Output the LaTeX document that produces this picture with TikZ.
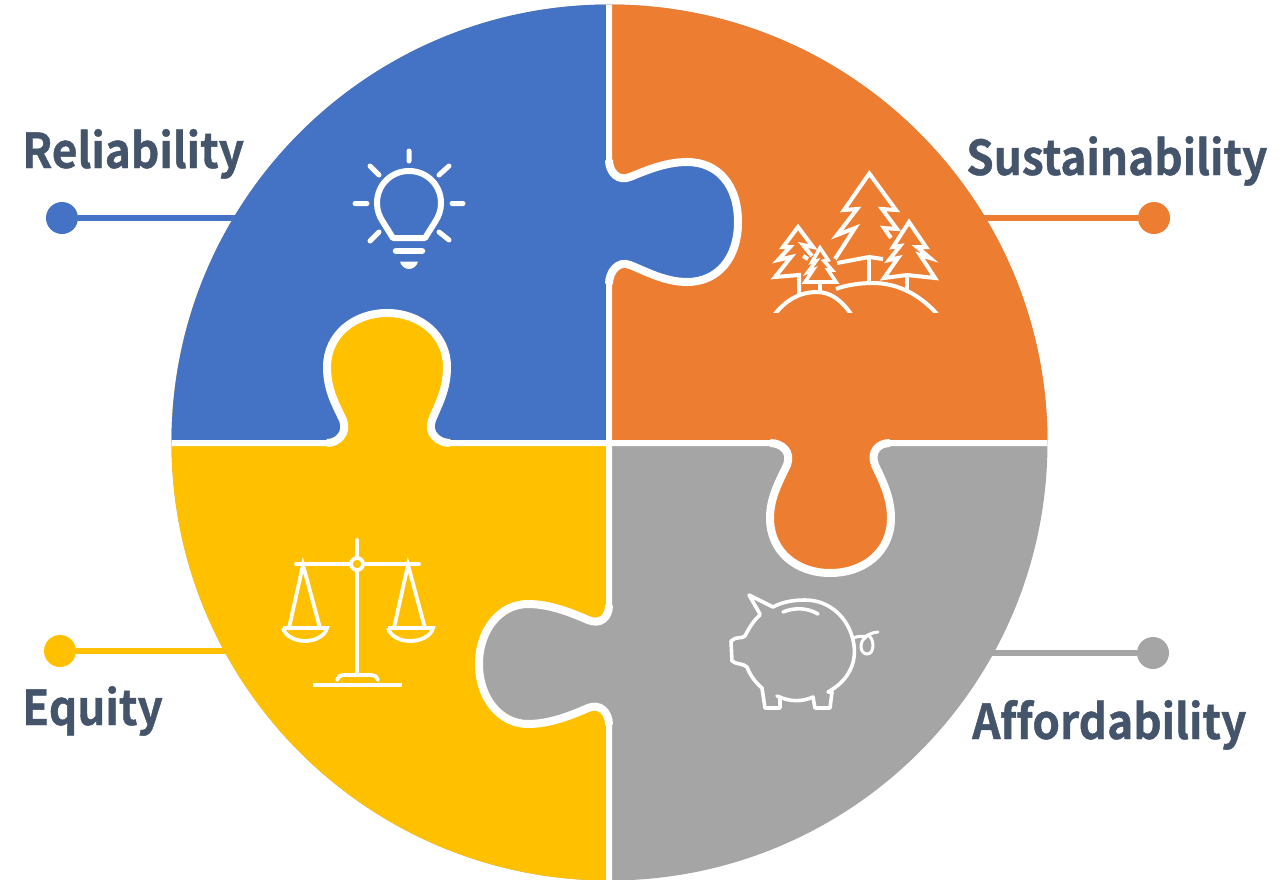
\documentclass[tikz,border=0pt]{standalone}
\usepackage{fontspec}
\setmainfont{Noto Sans CJK SC Bold}[Ligatures=NoCommon,FakeStretch=0.92,FakeBold=0.9]
\definecolor{cblue}{HTML}{4472C4}
\definecolor{corange}{HTML}{ED7D31}
\definecolor{cgrey}{HTML}{A5A5A5}
\definecolor{cyellow}{HTML}{FFC000}
\definecolor{ctext}{HTML}{44546A}
\tikzset{
  label text/.style={text=ctext,font=\fontsize{48}{48}\selectfont,anchor=base west,inner sep=0pt},
  dot/.style={circle,fill=#1,draw=none,minimum size=32pt,inner sep=0pt},
  leader/.style={line width=6pt,draw=#1},
  icon/.style={draw=white,line join=miter,line cap=round,line width=#1},
  icon/.default=3.3pt,
  seam/.style={white,line width=6pt},
  tabseam/.style={white,line width=8pt,line cap=butt}
}
\def\TabT{(609,160) .. controls (609,172) and (618,182) .. (630,177)
  .. controls (645,171) and (665,162) .. (687,162)
  .. controls (718,162) and (738,185) .. (738,222)
  .. controls (738,258) and (718,282) .. (687,282)
  .. controls (665,282) and (645,271) .. (630,265)
  .. controls (618,260) and (609,272) .. (609,284)}
\def\TabL{(450,443) .. controls (438,443) and (427,433) .. (432,420)
  .. controls (438,405) and (447,390) .. (447,367)
  .. controls (447,335) and (420,313) .. (387,313)
  .. controls (354,313) and (327,335) .. (327,367)
  .. controls (327,390) and (336,405) .. (343,420)
  .. controls (348,433) and (338,443) .. (327,443)}
\def\TabR{(770,443) .. controls (782,443) and (792,452) .. (787,465)
  .. controls (780,480) and (770,497) .. (770,518)
  .. controls (770,552) and (797,573) .. (830,573)
  .. controls (864,573) and (891,552) .. (891,518)
  .. controls (891,497) and (882,480) .. (875,465)
  .. controls (870,452) and (878,443) .. (890,443)}
\def\TabB{(609,605) .. controls (609,618) and (600,625) .. (588,620)
  .. controls (572,613) and (550,604) .. (528,604)
  .. controls (500,604) and (479,630) .. (479,664)
  .. controls (479,698) and (500,724) .. (528,724)
  .. controls (550,724) and (572,715) .. (588,708)
  .. controls (600,703) and (609,712) .. (609,725)}
\def\TopP{(609,-5) -- \TabT -- (609,443)}
\def\LeftP{-- \TabL -- (165,443)}
\def\RightP{-- \TabR -- (1055,443)}
\def\BotP{-- \TabB -- (609,885)}
\begin{document}
\begin{tikzpicture}[x=1pt,y=-1pt]
\useasboundingbox (0,0) rectangle (1288,879);
% labels and leaders
\node[label text] (rel) at (22,168) {Reliability};
\node[label text] (sus) at (966,175) {Sustainability};
\node[label text] (equ) at (22,725) {Equity};
\node[label text] (aff) at (972,739) {Affordability};
\node[dot=cblue] (d1) at (62,218) {};
\node[dot=corange] (d2) at (1154,218) {};
\node[dot=cyellow] (d3) at (60,651) {};
\node[dot=cgrey] (d4) at (1153,653) {};
\coordinate (e1) at (260,218);
\coordinate (e2) at (960,218);
\coordinate (e3) at (250,651);
\coordinate (e4) at (970,653);
\draw[leader=cblue] (d1) -- (e1);
\draw[leader=corange] (d2) -- (e2);
\draw[leader=cyellow] (d3) -- (e3);
\draw[leader=cgrey] (d4) -- (e4);
% puzzle
\begin{scope}
\clip (609.5,442.5) circle[radius=438pt];
\fill[cgrey] (160,-10) rectangle (1060,890);
\fill[cyellow] (609,443) \BotP -- (165,885) -- (165,290) -- (609,290) -- cycle;
\fill[corange] \TopP \RightP -- (1055,-5) -- cycle;
\fill[cblue] \TopP \LeftP -- (165,-5) -- cycle;
\draw[seam] \TopP;
\draw[seam] (609,443) \LeftP;
\draw[seam] (609,443) \RightP;
\draw[seam] (609,443) \BotP;
\draw[tabseam] \TabT;
\draw[tabseam] \TabL;
\draw[tabseam] \TabR;
\draw[tabseam] \TabB;
\end{scope}
% bulb
\draw[icon=5pt] (409,151)--(409,161) (370,166)--(379,175) (449,166)--(439,175)
  (355,203.5)--(367,203.5) (452,203.5)--(463,203.5) (370,241)--(379,232) (449,240)--(439,232);
\draw[icon=6pt,line join=round] (393,238) -- (383,222) .. controls (379,216) and (377,210) .. (377,203)
  .. controls (377,185) and (391,171) .. (409,171)
  .. controls (427,171) and (441,185) .. (441,203)
  .. controls (441,210) and (439,216) .. (435,222) -- (425,238) -- cycle;
\draw[icon=6.5pt] (396,251)--(422,251);
\fill[white] (400,261.5) -- (418,261.5) .. controls (417,266) and (413,269) .. (409,269) .. controls (405,269) and (401,266) .. (400,261.5) -- cycle;
% trees
\draw[icon=4pt,line cap=butt] (835,259) -- (855,228) -- (837,235) -- (857,209) -- (844,210) -- (869.3,173.5) -- (896,210) -- (882,209) -- (897,229) -- (884,228) -- (891,238);
\draw[icon=4pt,line cap=butt] (837,263) -- (869,257) -- (883,259);
\draw[icon=4pt,line cap=butt] (869,257) -- (869,283);
\draw[icon=4pt,line cap=butt] (884,278) -- (898,258) -- (889,260) -- (900,246) -- (893,247) -- (909,222) -- (926,247) -- (917,247) -- (930,258) -- (920,255) -- (935,278) -- (907,275) -- cycle;
\draw[icon=4pt,line cap=butt] (907,275) -- (907,292);
\draw[icon=4pt,line cap=butt] (799,295) -- (799,275) -- (775,277) -- (791,257) -- (778,260) -- (790,247) -- (783,247) -- (798,227) -- (813,247) -- (803,245) -- (812,256);
\draw[icon=4pt,line cap=butt] (803,256) -- (808,259);
\draw[icon=3.6pt,line cap=butt] (805,282) -- (813,270) -- (808,272) -- (816,261) -- (812,262) -- (820,248) -- (828,260) -- (824,261) -- (832,270) -- (828,270) -- (836,282) -- cycle;
\draw[icon=4pt,line cap=butt] (820,282) -- (820,292);
\begin{scope}
\clip (760,270) rectangle (950,312);
\draw[icon=4pt,line cap=butt] (775,314) .. controls (786,300) and (800,292) .. (817,292) .. controls (831,292) and (842,301) .. (851,314);
\draw[icon=4pt,line cap=butt] (836,289) .. controls (846,285) and (860,283) .. (873,283) .. controls (898,283) and (920,295) .. (937,314);
\end{scope}
% scales
\draw[icon=3.8pt] (357,540) -- (357,558) (357,570) -- (357,675) (296,564) -- (351,564) (363,564) -- (419,564);
\draw[icon=3.8pt] (357,564) circle[radius=6pt];
\draw[icon=3.8pt] (337,680) .. controls (338,677) and (340,675) .. (343,675) -- (372,675) .. controls (375,675) and (377,677) .. (378,680);
\draw[icon=3.8pt,line cap=butt] (313,685) -- (402,685);
\draw[icon=3.8pt,line cap=butt] (289,628) -- (303,565) -- (320,628);
\draw[icon=3.8pt,line cap=butt] (394,628) -- (408,565) -- (425,628);
\draw[icon=3.8pt,line cap=butt] (283,628) -- (327,628) .. controls (325,636) and (315,641) .. (305,641) .. controls (295,641) and (285,636) .. (283,628);
\draw[icon=3.8pt,line cap=butt] (388,628) -- (433,628) .. controls (431,636) and (421,641) .. (410,641) .. controls (400,641) and (390,636) .. (388,628);
% pig
\draw[icon=3.6pt,line join=round] (760,614) -- (749,595) -- (773,607) .. controls (782,602) and (793,600) .. (805,600)
  .. controls (830,600) and (848,618) .. (853,640) .. controls (858,660) and (850,680) .. (828,692)
  -- (832,692) -- (830,708) -- (815,708) -- (813,697) .. controls (802,702) and (790,702) .. (777,696);
\draw[icon=3.6pt,line join=round] (780,697) -- (780,708) -- (765,708) -- (762,688) .. controls (755,682) and (750,675) .. (747,667) .. controls (743,663) and (737,665) .. (732,661) -- (731,641) .. controls (736,636) and (742,639) .. (745,636) .. controls (749,628) and (754,620) .. (760,615);
\draw[icon=3.6pt] (783,612) .. controls (795,607) and (808,608) .. (818,614);
\draw[icon=3pt] (853,638) .. controls (858,636) and (864,636) .. (866,637) .. controls (862,640) and (861,643) .. (861,647) .. controls (861,651) and (864,654) .. (867,654) .. controls (871,654) and (873,650) .. (873,645) .. controls (873,640) and (870,636) .. (868,635) .. controls (872,633) and (875,632) .. (878,632);
\end{tikzpicture}
\end{document}
